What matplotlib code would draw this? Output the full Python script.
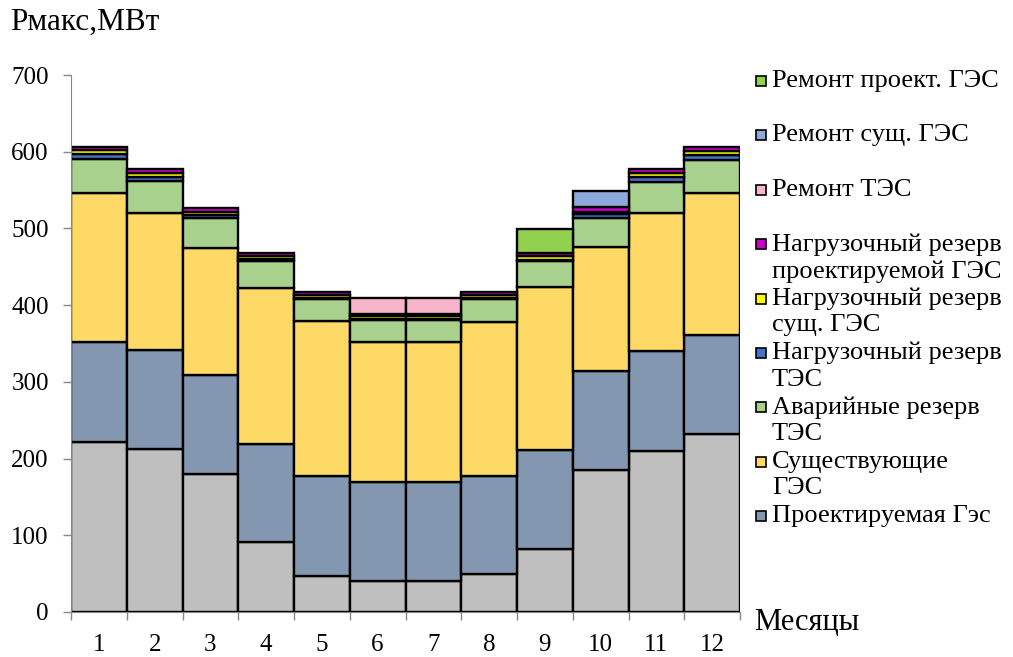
import numpy as np
import matplotlib.pyplot as plt
from matplotlib.patches import Rectangle

plt.rcParams["font.family"] = ["Liberation Serif", "DejaVu Serif"]

months = [1, 2, 3, 4, 5, 6, 7, 8, 9, 10, 11, 12]

# слои снизу вверх, МВт
tes_base   = [222, 212, 180, 91, 47, 40, 40, 50, 82, 185, 210, 232]
proj_ges   = [130, 130, 129, 128, 130, 129, 129, 127, 129, 129, 130, 129]
exist_ges  = [194, 178, 166, 203, 202, 183, 183, 201, 212, 162, 180, 185]
avar_tes   = [44, 42, 39, 36, 29, 29, 29, 30, 35, 38, 41, 43]
nagr_tes   = [7, 5, 4, 2, 1, 1, 1, 1, 1, 5, 6, 7]
nagr_sus   = [5, 5, 4, 4, 4, 4, 4, 4, 5, 3, 5, 5]
nagr_proj  = [4, 5, 5, 4, 4, 3, 3, 4, 4, 6, 5, 5]
rem_tes    = [0, 0, 0, 0, 0, 20, 20, 0, 0, 0, 0, 0]
rem_sus    = [0, 0, 0, 0, 0, 0, 0, 0, 0, 21, 0, 0]
rem_proj   = [0, 0, 0, 0, 0, 0, 0, 0, 31, 0, 0, 0]

series = [
    (tes_base,  "#BFBFBF", None),
    (proj_ges,  "#8497B0", "Проектируемая Гэс"),
    (exist_ges, "#FFD966", "Существующие\nГЭС"),
    (avar_tes,  "#A9D18E", "Аварийные резерв\nТЭС"),
    (nagr_tes,  "#4472C4", "Нагрузочный резерв\nТЭС"),
    (nagr_sus,  "#FFFF00", "Нагрузочный резерв\nсущ. ГЭС"),
    (nagr_proj, "#CC00CC", "Нагрузочный резерв\nпроектируемой ГЭС"),
    (rem_tes,   "#F8B4CB", "Ремонт ТЭС"),
    (rem_sus,   "#8EA9DB", "Ремонт сущ. ГЭС"),
    (rem_proj,  "#92D050", "Ремонт проект. ГЭС"),
]

W, H = 1013, 657
fig = plt.figure(figsize=(W / 100, H / 100), dpi=100)
ax = fig.add_axes([71 / W, 45 / H, 669 / W, 537 / H])

x = np.array(months)
bottom = np.zeros(len(months))
for vals, color, label in series:
    v = np.array(vals, dtype=float)
    mask = v > 0
    ax.bar(x[mask], v[mask], width=1.0, bottom=bottom[mask], color=color,
           edgecolor="black", linewidth=1.7)
    bottom += v

ax.set_xlim(0.5, 12.5)
ax.set_ylim(0, 700)
ax.set_yticks(range(0, 701, 100))
ax.set_xticks(months)
ax.set_xticks(np.arange(0.5, 12.6, 1), minor=True)
ax.tick_params(axis="x", which="major", length=0, labelsize=18, pad=16)
ax.tick_params(axis="x", which="minor", length=6, color="#888888", width=1)
ax.tick_params(axis="y", length=6, color="#888888", width=1, labelsize=18, pad=10)
for s in ["top", "right"]:
    ax.spines[s].set_visible(False)
ax.spines["left"].set_color("#888888")
ax.spines["bottom"].set_color("#888888")

fig.text(10 / W, 1 - 22 / H, "Рмакс,МВт", fontsize=22.5, va="center", ha="left")
fig.text(754 / W, 1 - 622 / H, "Месяцы", fontsize=22, va="center", ha="left")

# легенда справа, сверху вниз
legend_items = [s for s in series if s[2] is not None][::-1]
for i, (vals, color, label) in enumerate(legend_items):
    yc = 81 + 54.4 * i
    fig.patches.append(Rectangle((756 / W, 1 - (yc + 5) / H), 10 / W, 10 / H,
                                 transform=fig.transFigure, facecolor=color,
                                 edgecolor="black", linewidth=1.2))
    fig.text(772 / W, 1 - (yc - 11) / H, label, fontsize=19, va="top",
             ha="left", linespacing=1.25)

plt.savefig("out.png", dpi=100)
